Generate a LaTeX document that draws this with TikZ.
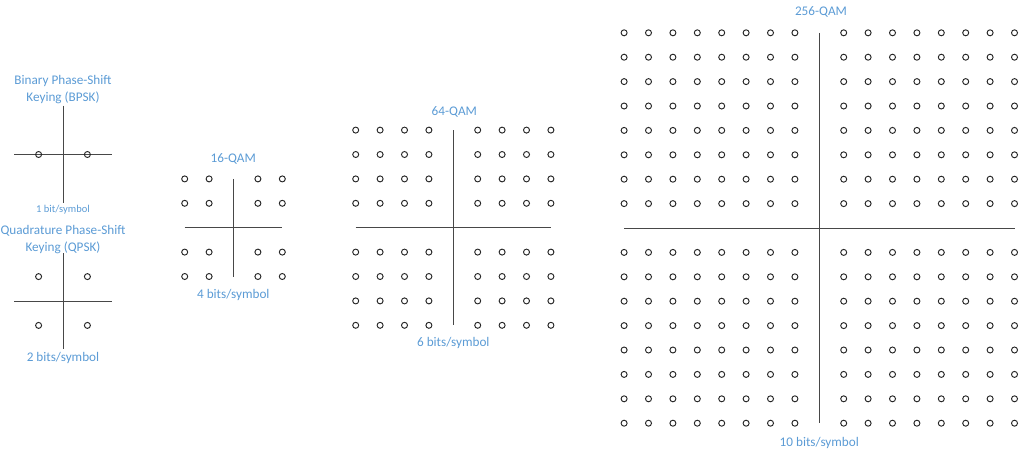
\documentclass[tikz,border=0pt]{standalone}
\usepackage{fontspec}
\setmainfont{Carlito}
\definecolor{lblue}{HTML}{5B9BD5}
\begin{document}
\begin{tikzpicture}[x=1pt,y=-1pt,
  axis/.style={draw=black!72,line width=1pt},
  pt/.style={draw=black!85,line width=0.95pt},
  lbl/.style={text=lblue,font=\fontsize{13.2}{16.5}\selectfont,align=center,inner sep=0pt},
  smalllbl/.style={text=lblue,font=\fontsize{10.5}{12}\selectfont,inner sep=0pt}]
\useasboundingbox (0,0) rectangle (1019,458);
\def\s{24.4}
\def\r{3}
% BPSK
\coordinate (b) at (63,154.5);
\draw[axis] (b) ++(-48.8,0) -- ++(97.6,0);
\draw[axis] (b) ++(0,-48.8) -- ++(0,97.6);
\foreach \i in {-1,1} \draw[pt] (b) ++(\s*\i,0) circle[radius=\r];
\node[lbl] (bt) at (63,89.5) {Binary Phase-Shift\\Keying (BPSK)};
\node[smalllbl] (bb) at (63,209.5) {1 bit/symbol};
% QPSK
\coordinate (q) at (63,301);
\draw[axis] (q) ++(-48.8,0) -- ++(97.6,0);
\draw[axis] (q) ++(0,-48) -- ++(0,96);
\foreach \i in {-1,1} \foreach \j in {-1,1} \draw[pt] (q) ++(\s*\i,\s*\j) circle[radius=\r];
\node[lbl] (qt) at (63,239.5) {Quadrature Phase-Shift\\Keying (QPSK)};
\node[lbl] (qb) at (63,357.7) {2 bits/symbol};
% 16-QAM
\coordinate (c16) at (233.5,227.7);
\draw[axis] (c16) ++(-48.8,0) -- ++(97.6,0);
\draw[axis] (c16) ++(0,-48.8) -- ++(0,97.6);
\foreach \i in {-2,-1,1,2} \foreach \j in {-2,-1,1,2} \draw[pt] (c16) ++(\s*\i,\s*\j) circle[radius=\r];
\node[lbl] (t16) at (233.3,159) {16-QAM};
\node[lbl] (b16) at (233.3,295) {4 bits/symbol};
% 64-QAM
\coordinate (c64) at (453.3,227.7);
\draw[axis] (c64) ++(-97.6,0) -- ++(195.2,0);
\draw[axis] (c64) ++(0,-97.6) -- ++(0,195.2);
\foreach \i in {-4,-3,-2,-1,1,2,3,4} \foreach \j in {-4,-3,-2,-1,1,2,3,4} \draw[pt] (c64) ++(\s*\i,\s*\j) circle[radius=\r];
\node[lbl] (t64) at (454.3,111.7) {64-QAM};
\node[lbl] (b64) at (453.3,343.3) {6 bits/symbol};
% 256-QAM
\coordinate (c256) at (819.3,228);
\draw[axis] (c256) ++(-195.2,0) -- ++(390.4,0);
\draw[axis] (c256) ++(0,-195.2) -- ++(0,390.4);
\foreach \i in {-8,-7,-6,-5,-4,-3,-2,-1,1,2,3,4,5,6,7,8} \foreach \j in {-8,-7,-6,-5,-4,-3,-2,-1,1,2,3,4,5,6,7,8} \draw[pt] (c256) ++(\s*\i,\s*\j) circle[radius=\r];
\node[lbl] (t256) at (821,12.3) {256-QAM};
\node[lbl] (b256) at (819.3,442.7) {10 bits/symbol};
\end{tikzpicture}
\end{document}
